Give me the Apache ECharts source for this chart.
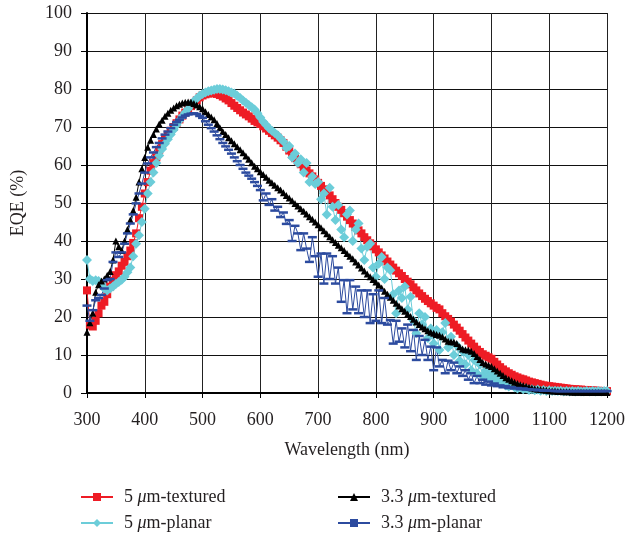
<!DOCTYPE html>
<html>
<head>
<meta charset="utf-8">
<script src="https://cdn.jsdelivr.net/npm/echarts@6/dist/echarts.min.js"></script>
<style>
  html, body { margin: 0; padding: 0; background: #fff; }
  #chart { width: 639px; height: 537px; }
</style>
</head>
<body>
<div id="chart"></div>
<script>
// sampling grid of the measurement, 300..1200 nm every 5 nm
const wavelength = Array.from({ length: 181 }, (_, i) => 300 + 5 * i)

const textured5 = [
  27, 18, 17.5, 19, 21, 23, 24, 26, 28, 29.5, 31, 32, 33.5, 34.5, 36, 37.5, 39.5, 42, 46, 49,
  52.5, 55.5, 58.5, 60.5, 62, 64, 65.5, 66.8, 68, 69, 70, 71, 72, 73, 73.8, 74.6, 75.5, 76.3, 77, 77.8,
  78.3, 78.6, 78.8, 78.9, 78.9, 78.7, 78.4, 78, 77.5, 77, 76.3, 75.6, 75, 74.4, 73.8, 73.3, 72.8, 72.2, 71.6, 71.2,
  70.8, 70.2, 69.6, 69, 68.4, 67.8, 67.2, 66.5, 65.8, 64.8, 63.8, 62.8, 61.8, 61, 60.2, 59.4, 58.6, 57.8, 57, 56.2,
  55.3, 54.5, 53.6, 52.8, 52, 51, 50, 49, 48.2, 47.3, 46.4, 45.5, 44.6, 43.7, 42.8, 42, 41, 40.2, 39.4, 38.6,
  37.8, 37, 36.2, 35.4, 34.6, 33.8, 33, 32.2, 31.5, 30.8, 30, 29.3, 28.6, 27.8, 27, 26.2, 25.5, 24.8, 24.2, 23.6,
  23, 22.4, 22, 21, 20.2, 19.5, 18.8, 18, 17.2, 16.4, 15.5, 14.6, 13.8, 13, 12.2, 11.4, 10.8, 10.2, 9.8, 9.4,
  9, 8.2, 7.5, 6.8, 6.2, 5.7, 5.2, 4.8, 4.4, 4.1, 3.8, 3.6, 3.3, 3, 2.8, 2.6, 2.4, 2.2, 2, 1.9,
  1.8, 1.7, 1.6, 1.5, 1.4, 1.3, 1.2, 1.1, 1, 1, 0.9, 0.9, 0.8, 0.8, 0.7, 0.7, 0.6, 0.6, 0.5, 0.5,
  0.5
]

const planar5 = [
  35, 30, 29.5, 29.7, 29.5, 28.5, 27.5, 27, 27.5, 28, 28.7, 29.2, 29.8, 30.6, 31.8, 33, 36, 39.3, 41.5, 45,
  48.5, 52.5, 55.5, 58, 60.5, 62.5, 64.2, 65.6, 66.8, 68, 69.3, 70.5, 71.7, 72.8, 73.8, 74.8, 76, 76.8, 77.5, 78.2,
  78.7, 79.1, 79.4, 79.6, 79.8, 80, 80, 79.9, 79.7, 79.4, 79.1, 78.8, 78.2, 77.6, 77, 76.4, 75.8, 75.2, 74.6, 73.6,
  72.5, 71.4, 70.5, 69.7, 69, 68.4, 67.8, 67, 66.2, 64.5, 65, 62, 63, 60.5, 61.5, 58, 60.5, 55.5, 57, 55,
  55.5, 51, 52.5, 47, 54, 49, 45.5, 49.5, 43, 41, 47, 48, 40, 43, 44.6, 38, 35, 38.5, 39.3, 33,
  30.6, 34, 35.8, 30, 33, 32.3, 26, 21, 27, 25, 28, 22, 25.3, 19, 15.7, 21, 18, 20, 14.5, 17,
  13, 16.6, 11.3, 16, 18.4, 12, 14.8, 10, 12.5, 8.5, 11, 7.5, 10, 6, 8.7, 5.2, 7.5, 4.5, 6, 4.3,
  5, 3.5, 4, 2.8, 3, 2, 1.7, 2.2, 1.5, 1.2, 1.5, 1, 1.2, 0.8, 1, 0.7, 0.9, 0.6, 0.8, 0.5,
  0.7, 0.5, 0.6, 0.5, 0.6, 0.4, 0.5, 0.4, 0.5, 0.4, 0.5, 0.4, 0.4, 0.5, 0.4, 0.5, 0.4, 0.5, 0.4, 0.5,
  0.5
]

const textured33 = [
  16, 18.5, 21, 26.5, 28.5, 29.5, 30, 31, 32, 35, 40, 38.5, 37.5, 40, 43, 45.5, 48, 51.5, 55.5, 59,
  62, 64.7, 66.5, 68, 69.5, 70.8, 71.8, 72.8, 73.6, 74.4, 75, 75.6, 76, 76.3, 76.5, 76.6, 76.5, 76.2, 75.8, 75.3,
  74.8, 74, 73.3, 72.6, 71.9, 70.9, 69.8, 68.8, 68, 67.2, 66.4, 65.6, 64.8, 64, 63.2, 62.4, 61.5, 60.6, 59.7, 59,
  58.2, 57.5, 56.8, 56, 55.3, 54.7, 54, 53.4, 52.7, 52, 51.3, 50.6, 49.9, 49.2, 48.5, 47.8, 47.1, 46.4, 45.7, 45,
  44.3, 43.5, 42.7, 41.9, 41.1, 40.3, 39.6, 38.9, 38.2, 37.5, 36.7, 36, 35.3, 34.5, 33.7, 32.9, 32.1, 31.3, 30.6, 29.9,
  29.2, 28.4, 27.6, 26.8, 26, 25.2, 24.4, 23.6, 22.9, 22.2, 21.5, 20.8, 20.1, 19.4, 18.7, 18, 17.4, 16.9, 16.4, 16,
  15.7, 15.4, 15.2, 14.8, 14.2, 13.6, 13.5, 13.4, 13, 12.2, 11.6, 11.4, 11.3, 11, 10.4, 9.6, 8.8, 8, 7.6, 7.3,
  7, 6.4, 5.8, 5.2, 4.6, 4, 3.6, 3.2, 2.8, 2.5, 2.2, 2, 1.8, 1.5, 1.3, 1.1, 1, 0.9, 0.8, 0.7,
  0.6, 0.5, 0.5, 0.4, 0.4, 0.3, 0.3, 0.3, 0.2, 0.2, 0.2, 0.2, 0.1, 0.1, 0.1, 0.1, 0.1, 0.1, 0.1, 0.1,
  0.1
]

const planar33 = [
  23, 19, 21.8, 24.4, 25, 25.8, 27.5, 29.7, 30, 34.5, 37, 35.8, 37, 39.3, 42, 44.6, 47, 49.9, 52.5, 55.1,
  58, 60.4, 62, 63.3, 64.7, 65.8, 67, 68, 68.8, 69.7, 70.6, 71.3, 71.9, 72.5, 73, 73.3, 73.5, 73.6, 73.4, 72.9,
  72.4, 71.5, 70.6, 69.7, 68.8, 67.8, 66.8, 65.8, 64.9, 64, 63, 62, 61, 60, 59, 58, 57.2, 56.4, 55.5, 54.5,
  53.4, 50.7, 52.5, 49.5, 51, 48, 49, 46.3, 47.5, 44.5, 45.5, 40, 44, 42, 37.6, 42, 38, 34.5, 41, 36,
  30.6, 36.7, 28.8, 36.7, 30, 36, 28.8, 33, 24, 29.7, 21, 29.7, 22, 28, 21, 27, 20, 27, 18.4, 26,
  19, 27, 18.4, 25, 18, 19.2, 13, 19, 13.5, 17, 12, 18, 11, 16.6, 8.7, 15, 10, 14, 8.7, 12.2,
  6, 12, 7, 8.7, 5.2, 8.5, 6, 8, 5.2, 7, 4.5, 6, 3.5, 5.2, 2.6, 4.5, 2.6, 3.5, 2.2, 3,
  2, 2.5, 1.8, 2, 1.5, 1.8, 1.3, 1.5, 1.2, 1.3, 1, 1.2, 0.9, 1, 0.8, 0.9, 0.7, 0.8, 0.6, 0.7,
  0.6, 0.6, 0.5, 0.5, 0.5, 0.5, 0.5, 0.5, 0.5, 0.5, 0.5, 0.5, 0.5, 0.5, 0.5, 0.5, 0.5, 0.5, 0.5, 0.5,
  0.5
]

const font = '"Liberation Serif", "DejaVu Serif", serif'
const ink = '#231f20'

const pairs = (values) => values.map((v, i) => [wavelength[i], v])

const chart = echarts.init(document.getElementById('chart'))

const legendText = {
  color: ink,
  fontFamily: font,
  fontSize: 18,
  padding: [0, 0, 0, 6],
  rich: { i: { fontFamily: font, fontSize: 18, fontStyle: 'italic', color: ink } },
}
// one legend per entry so each sits where the original puts it
const legendAt = (name, left, top) => ({
  left, top, padding: 0, itemWidth: 32, itemHeight: 10,
  data: [name],
  formatter: (n) => n.replace('μ', '{i|μ}'),
  textStyle: legendText, selectedMode: false,
})

chart.setOption({
  animation: false,
  textStyle: { fontFamily: font, color: ink },
  grid: { left: 87, right: 32, top: 13, bottom: 144 },
  legend: [
    legendAt('5 μm-textured', 80, 488),
    legendAt('5 μm-planar', 80, 514),
    legendAt('3.3 μm-textured', 337, 488),
    legendAt('3.3 μm-planar', 337, 514),
  ],
  xAxis: {
    type: 'value',
    min: 300, max: 1200, interval: 100,
    name: 'Wavelength (nm)',
    nameLocation: 'middle', nameGap: 48,
    nameTextStyle: { fontFamily: font, fontSize: 18, color: ink },
    axisLine: { onZero: false, lineStyle: { color: '#000', width: 2 } },
    axisTick: { show: true, length: 5, lineStyle: { color: '#000' } },
    axisLabel: {
      fontFamily: font, fontSize: 18, color: ink, margin: 18,
      formatter: (v) => String(v),
    },
    splitLine: { show: true, lineStyle: { color: '#222', width: 1 } },
  },
  yAxis: {
    type: 'value',
    min: 0, max: 100, interval: 10,
    name: 'EQE (%)',
    nameLocation: 'middle', nameGap: 60, nameRotate: 90,
    nameTextStyle: { fontFamily: font, fontSize: 18, color: ink },
    axisLine: { show: true, lineStyle: { color: '#000', width: 2 } },
    axisTick: { show: true, length: 6, lineStyle: { color: '#000' } },
    axisLabel: { fontFamily: font, fontSize: 18, color: ink, margin: 15 },
    splitLine: { show: true, lineStyle: { color: '#111', width: 1 } },
  },
  series: [
    {
      name: '5 μm-textured', type: 'line', data: pairs(textured5),
      symbol: 'rect', symbolSize: 8, showAllSymbol: true,
      itemStyle: { color: '#ee1c25' }, lineStyle: { color: '#ee1c25', width: 1 },
    },
    {
      name: '5 μm-planar', type: 'line', data: pairs(planar5),
      symbol: 'diamond', symbolSize: 10, showAllSymbol: true,
      itemStyle: { color: '#6ccdd9' }, lineStyle: { color: '#6ccdd9', width: 1 },
    },
    {
      name: '3.3 μm-textured', type: 'line', data: pairs(textured33),
      symbol: 'triangle', symbolSize: 7, showAllSymbol: true,
      itemStyle: { color: '#000' }, lineStyle: { color: '#000', width: 1 },
    },
    {
      name: '3.3 μm-planar', type: 'line', data: pairs(planar33),
      symbol: 'rect', symbolSize: [9, 2.5], showAllSymbol: true,
      itemStyle: { color: '#2c4b9f' }, lineStyle: { color: '#2c4b9f', width: 1 },
    },
  ],
})
</script>
</body>
</html>
